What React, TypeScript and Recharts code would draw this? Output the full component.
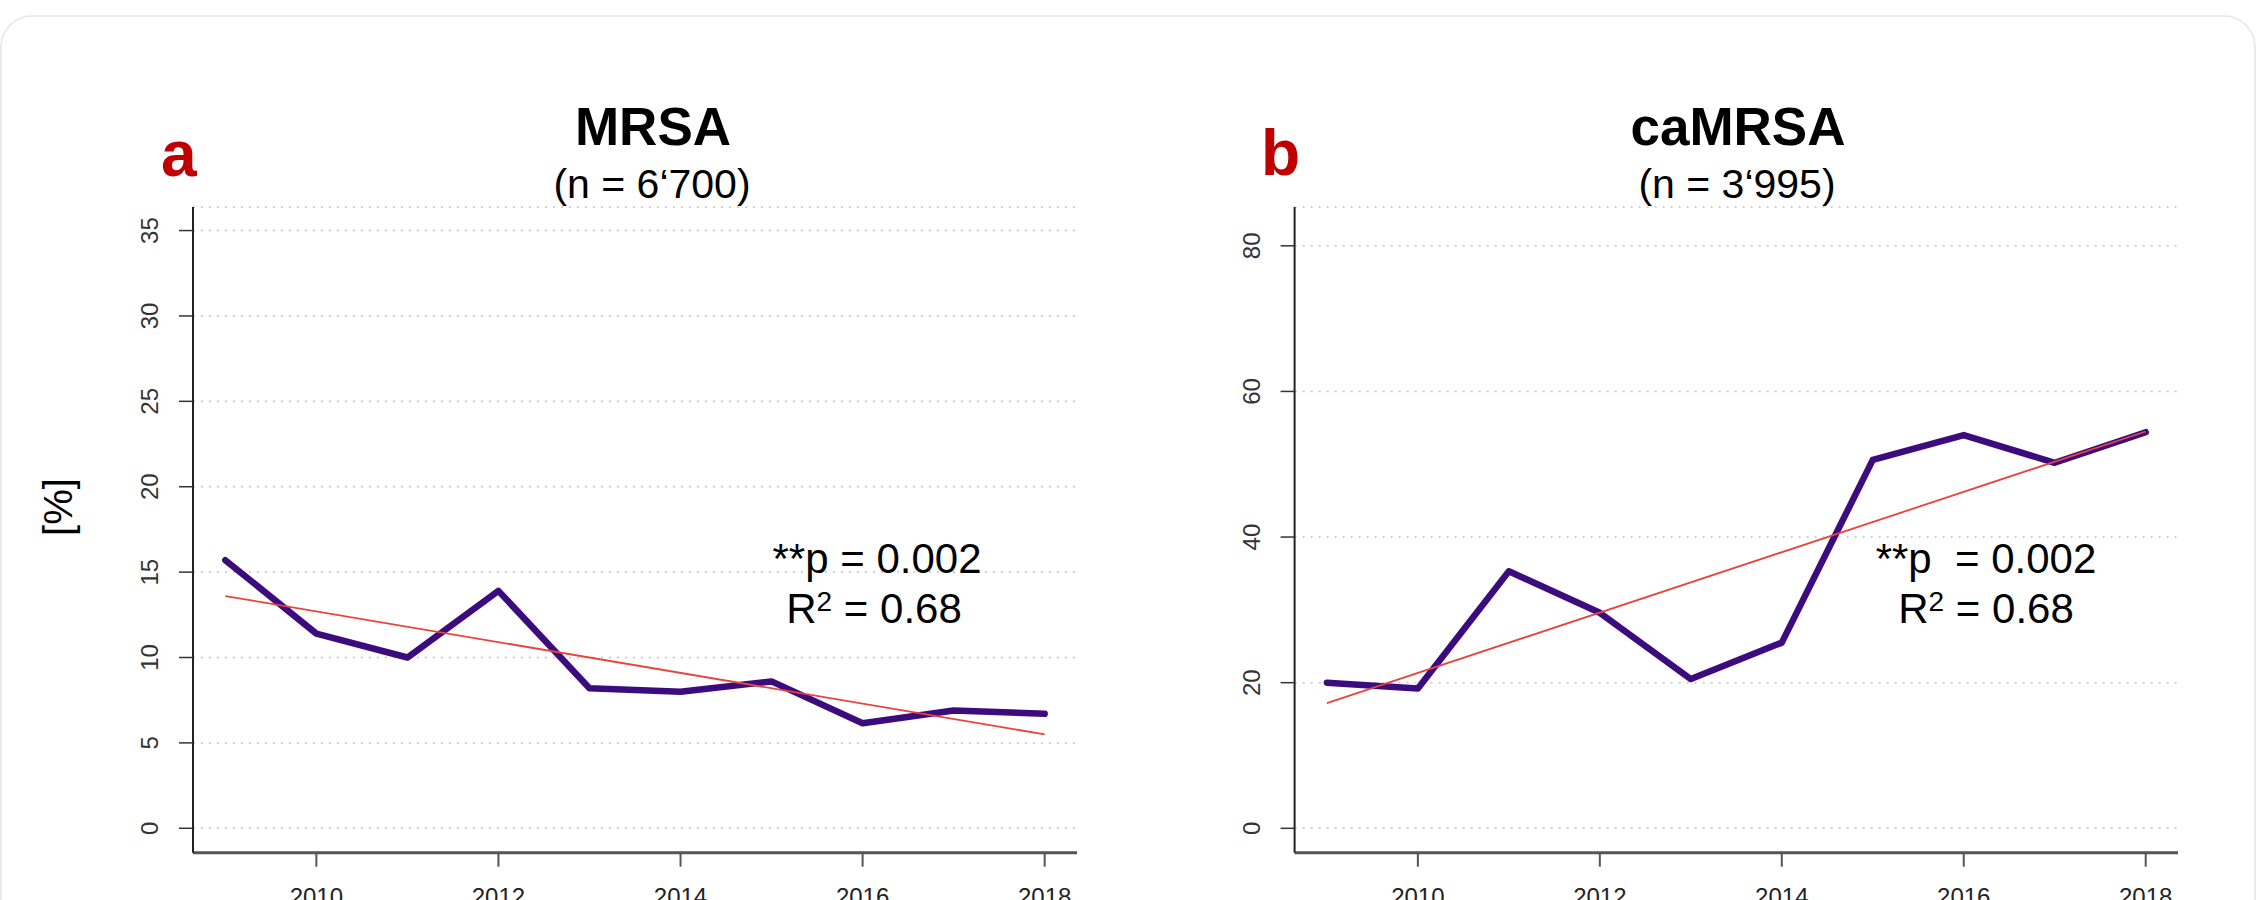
import React from 'react';
import { LineChart, Line, XAxis, YAxis, CartesianGrid } from 'recharts';

// ---- data ----
const years = [2009, 2010, 2011, 2012, 2013, 2014, 2015, 2016, 2017, 2018];
const mrsaValues = [15.7, 11.4, 10.0, 13.9, 8.2, 8.0, 8.6, 6.15, 6.9, 6.7];
const camrsaValues = [20.0, 19.2, 35.3, 29.6, 20.5, 25.5, 50.6, 54.0, 50.2, 54.4];
const trendYears = [2009, 2018];
const mrsaTrend = [13.6, 5.5];
const camrsaTrend = [17.2, 54.5];
const xTicks = [2010, 2012, 2014, 2016, 2018];
const mrsaYTicks = [0, 5, 10, 15, 20, 25, 30, 35];
const camrsaYTicks = [0, 20, 40, 60, 80];

const mrsaData = years.map((year, i) => ({ year, value: mrsaValues[i] }));
const camrsaData = years.map((year, i) => ({ year, value: camrsaValues[i] }));
const mrsaTrendData = trendYears.map((year, i) => ({ year, value: mrsaTrend[i] }));
const camrsaTrendData = trendYears.map((year, i) => ({ year, value: camrsaTrend[i] }));

const FONT = '"Liberation Sans", Arial, Helvetica, sans-serif';
const PURPLE = '#3c0b7e';
const RED = '#e6443c';

const makeYTick = (baseX: number) => (props: any) => {
  const { y, payload } = props;
  return (
    <text
      x={baseX}
      y={y}
      transform={`rotate(-90, ${baseX}, ${y})`}
      textAnchor="middle"
      fontFamily={FONT}
      fontSize={24}
      fill="#333"
    >
      {payload.value}
    </text>
  );
};

type PanelProps = {
  left: number;
  width: number;
  margin: { top: number; right: number; bottom: number; left: number };
  data: any[];
  trend: any[];
  yDomain: [number, number];
  yTicks: number[];
  tickBaseX: number;
};

function Panel({ left, width, margin, data, trend, yDomain, yTicks, tickBaseX }: PanelProps) {
  return (
    <div style={{ position: 'absolute', left, top: 0 }}>
      <LineChart width={width} height={900} margin={margin}>
        <CartesianGrid vertical={false} stroke="#c4c4c4" strokeWidth={1.5} strokeDasharray="2 6" />
        <XAxis
          type="number"
          dataKey="year"
          domain={[2008.645, 2018.355]}
          ticks={xTicks}
          interval={0}
          allowDataOverflow
          height={40}
          tickSize={14}
          tickMargin={21}
          axisLine={{ stroke: '#555', strokeWidth: 3 }}
          tickLine={{ stroke: '#555', strokeWidth: 2 }}
          tick={{ fill: '#222', fontSize: 24, fontFamily: FONT }}
        />
        <YAxis
          type="number"
          domain={yDomain}
          ticks={yTicks}
          interval={0}
          allowDataOverflow
          width={60}
          tickSize={14}
          axisLine={{ stroke: '#222', strokeWidth: 2 }}
          tickLine={{ stroke: '#333', strokeWidth: 1.5 }}
          tick={makeYTick(tickBaseX)}
        />
        <Line
          data={data}
          dataKey="value"
          type="linear"
          stroke={PURPLE}
          strokeWidth={6.5}
          strokeLinejoin="round"
          strokeLinecap="round"
          dot={false}
          activeDot={false}
          isAnimationActive={false}
        />
        <Line
          data={trend}
          dataKey="value"
          type="linear"
          stroke={RED}
          strokeWidth={1.8}
          dot={false}
          activeDot={false}
          isAnimationActive={false}
        />
      </LineChart>
    </div>
  );
}

export default function App() {
  const textBase = { fontFamily: FONT, fill: '#000' } as const;
  return (
    <div
      style={{
        position: 'absolute',
        left: 0,
        top: 0,
        width: 2257,
        height: 900,
        overflow: 'hidden',
        background: '#fff',
      }}
    >
      <div
        style={{
          position: 'absolute',
          left: 0,
          top: 15,
          width: 2256,
          height: 1000,
          border: '2px solid #ebebeb',
          borderRadius: 32,
          boxSizing: 'border-box',
        }}
      />
      <Panel
        left={0}
        width={1130}
        margin={{ top: 207, right: 53, bottom: 7.3, left: 133 }}
        data={mrsaData}
        trend={mrsaTrendData}
        yDomain={[-1.43, 36.38]}
        yTicks={mrsaYTicks}
        tickBaseX={158}
      />
      <Panel
        left={1130}
        width={1127}
        margin={{ top: 207, right: 79, bottom: 7.3, left: 104.6 }}
        data={camrsaData}
        trend={camrsaTrendData}
        yDomain={[-3.35, 85.33]}
        yTicks={camrsaYTicks}
        tickBaseX={130}
      />
      <svg
        width={2257}
        height={900}
        style={{ position: 'absolute', left: 0, top: 0, pointerEvents: 'none' }}
      >
        <text x={161} y={176} fontFamily={FONT} fontWeight="bold" fontSize={64} fill="#c00000">a</text>
        <text x={1261} y={175} fontFamily={FONT} fontWeight="bold" fontSize={64} fill="#c00000">b</text>

        <text x={653} y={145} textAnchor="middle" fontWeight="bold" fontSize={53} {...textBase}>MRSA</text>
        <text x={652} y={198} textAnchor="middle" fontSize={41} {...textBase}>(n = 6‘700)</text>
        <text x={1738} y={145} textAnchor="middle" fontWeight="bold" fontSize={53} {...textBase}>caMRSA</text>
        <text x={1737} y={198} textAnchor="middle" fontSize={41} {...textBase}>(n = 3‘995)</text>

        <text
          x={72}
          y={507}
          transform="rotate(-90, 72, 507)"
          textAnchor="middle"
          fontSize={40}
          {...textBase}
        >
          [%]
        </text>

        <text x={877} y={573} textAnchor="middle" fontSize={42} {...textBase}>**p = 0.002</text>
        <text x={874} y={623} textAnchor="middle" fontSize={42} {...textBase}>
          R<tspan fontSize={28} dy={-12}>2</tspan><tspan dy={12}> = 0.68</tspan>
        </text>

        <text x={1986} y={573} textAnchor="middle" fontSize={42} style={{ whiteSpace: 'pre' }} {...textBase}>**p  = 0.002</text>
        <text x={1986} y={623} textAnchor="middle" fontSize={42} {...textBase}>
          R<tspan fontSize={28} dy={-12}>2</tspan><tspan dy={12}> = 0.68</tspan>
        </text>
      </svg>
    </div>
  );
}
